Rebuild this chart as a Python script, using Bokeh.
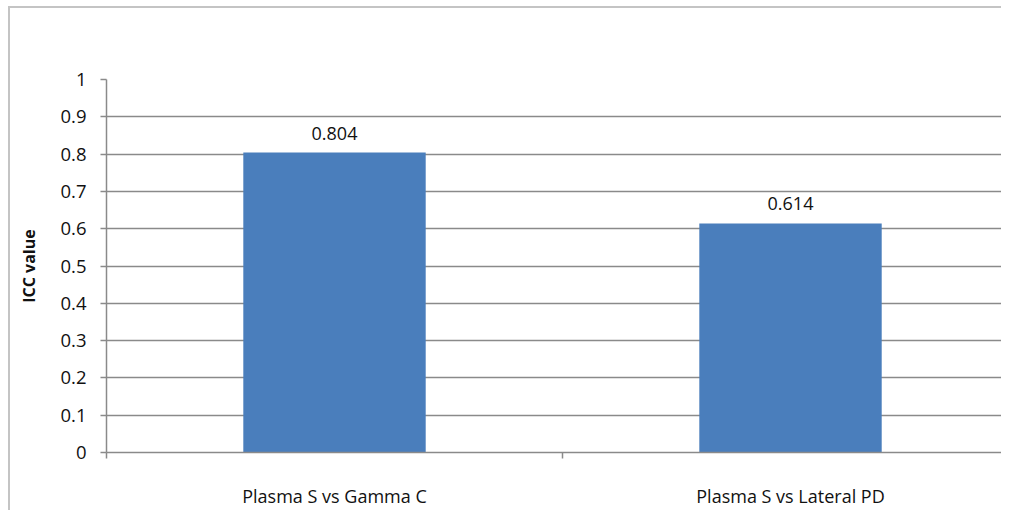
from bokeh.plotting import figure
from bokeh.models import Range1d, FixedTicker, ColumnDataSource, LabelSet
from bokeh.core.properties import value
from bokeh.embed import file_html
from bokeh.resources import INLINE

categories = ["Plasma S vs Gamma C", "Plasma S vs Lateral PD"]
icc_values = [0.804, 0.614]
value_labels = ["0.804", "0.614"]
y_ticks = [0, 0.1, 0.2, 0.3, 0.4, 0.5, 0.6, 0.7, 0.8, 0.9, 1]
y_tick_labels = ["0", "0.1", "0.2", "0.3", "0.4", "0.5", "0.6", "0.7", "0.8", "0.9", "1"]

FONT = "Open Sans"
GRID = "#8a8a8a"
TXT = "#111111"

xpos = [i + 0.5 for i in range(len(categories))]
src = ColumnDataSource(dict(x=xpos, y=icc_values, lab=value_labels))

p = figure(width=1001, height=510, output_backend="svg", toolbar_location=None,
           x_range=Range1d(0, 1.9627), y_range=Range1d(0, 1),
           min_border_left=106, min_border_right=0, min_border_top=79, min_border_bottom=58)
p.outline_line_color = None
p.background_fill_color = "white"
p.border_fill_color = "white"
p.border_fill_alpha = 0
p.styles = {
    "background": ("linear-gradient(#c4c4c4,#c4c4c4) 8px 6px / 2px 600px no-repeat, "
                   "linear-gradient(#c4c4c4,#c4c4c4) 8px 6px / 1200px 2px no-repeat, white")
}

p.vbar(x="x", top="y", width=0.4, source=src, fill_color="#4a7ebc", line_color=None)

labels = LabelSet(x="x", y="y", text="lab", source=src, text_align="center",
                  text_baseline="bottom", y_offset=13, text_font=value(FONT),
                  text_font_size=value("18px"), text_color=value(TXT))
p.add_layout(labels)

# x axis
p.xaxis.ticker = FixedTicker(ticks=xpos, minor_ticks=[0, 1, 2])
p.xaxis.major_label_overrides = {x: c for x, c in zip(xpos, categories)}
p.xaxis.major_tick_out = 0
p.xaxis.major_tick_in = 0
p.xaxis.minor_tick_out = 6
p.xaxis.minor_tick_in = 0
p.xaxis.minor_tick_line_color = GRID
p.xaxis.minor_tick_line_width = 1.5
p.xaxis.axis_line_color = GRID
p.xaxis.axis_line_width = 1.5
p.xaxis.major_label_standoff = 25
p.xaxis.major_label_text_font = FONT
p.xaxis.major_label_text_font_size = "18px"
p.xaxis.major_label_text_color = TXT

# y axis
p.yaxis.ticker = FixedTicker(ticks=y_ticks, minor_ticks=[])
p.yaxis.major_label_overrides = {t: l for t, l in zip(y_ticks, y_tick_labels)}
p.yaxis.major_tick_out = 6
p.yaxis.major_tick_in = 0
p.yaxis.major_tick_line_color = GRID
p.yaxis.major_tick_line_width = 1.5
p.yaxis.axis_line_color = GRID
p.yaxis.axis_line_width = 1.5
p.yaxis.major_label_standoff = 14
p.yaxis.major_label_text_font = FONT
p.yaxis.major_label_text_font_size = "18.5px"
p.yaxis.major_label_text_color = TXT
p.yaxis.axis_label = "ICC value"
p.yaxis.axis_label_text_font = FONT
p.yaxis.axis_label_text_font_style = "bold"
p.yaxis.axis_label_text_font_size = "16px"
p.yaxis.axis_label_standoff = 17
p.yaxis.axis_label_text_color = TXT

p.xgrid.grid_line_color = None
p.ygrid.ticker = FixedTicker(ticks=y_ticks)
p.ygrid.grid_line_color = GRID
p.ygrid.grid_line_width = 1.5

open("out.html", "w").write(file_html(p, INLINE))
